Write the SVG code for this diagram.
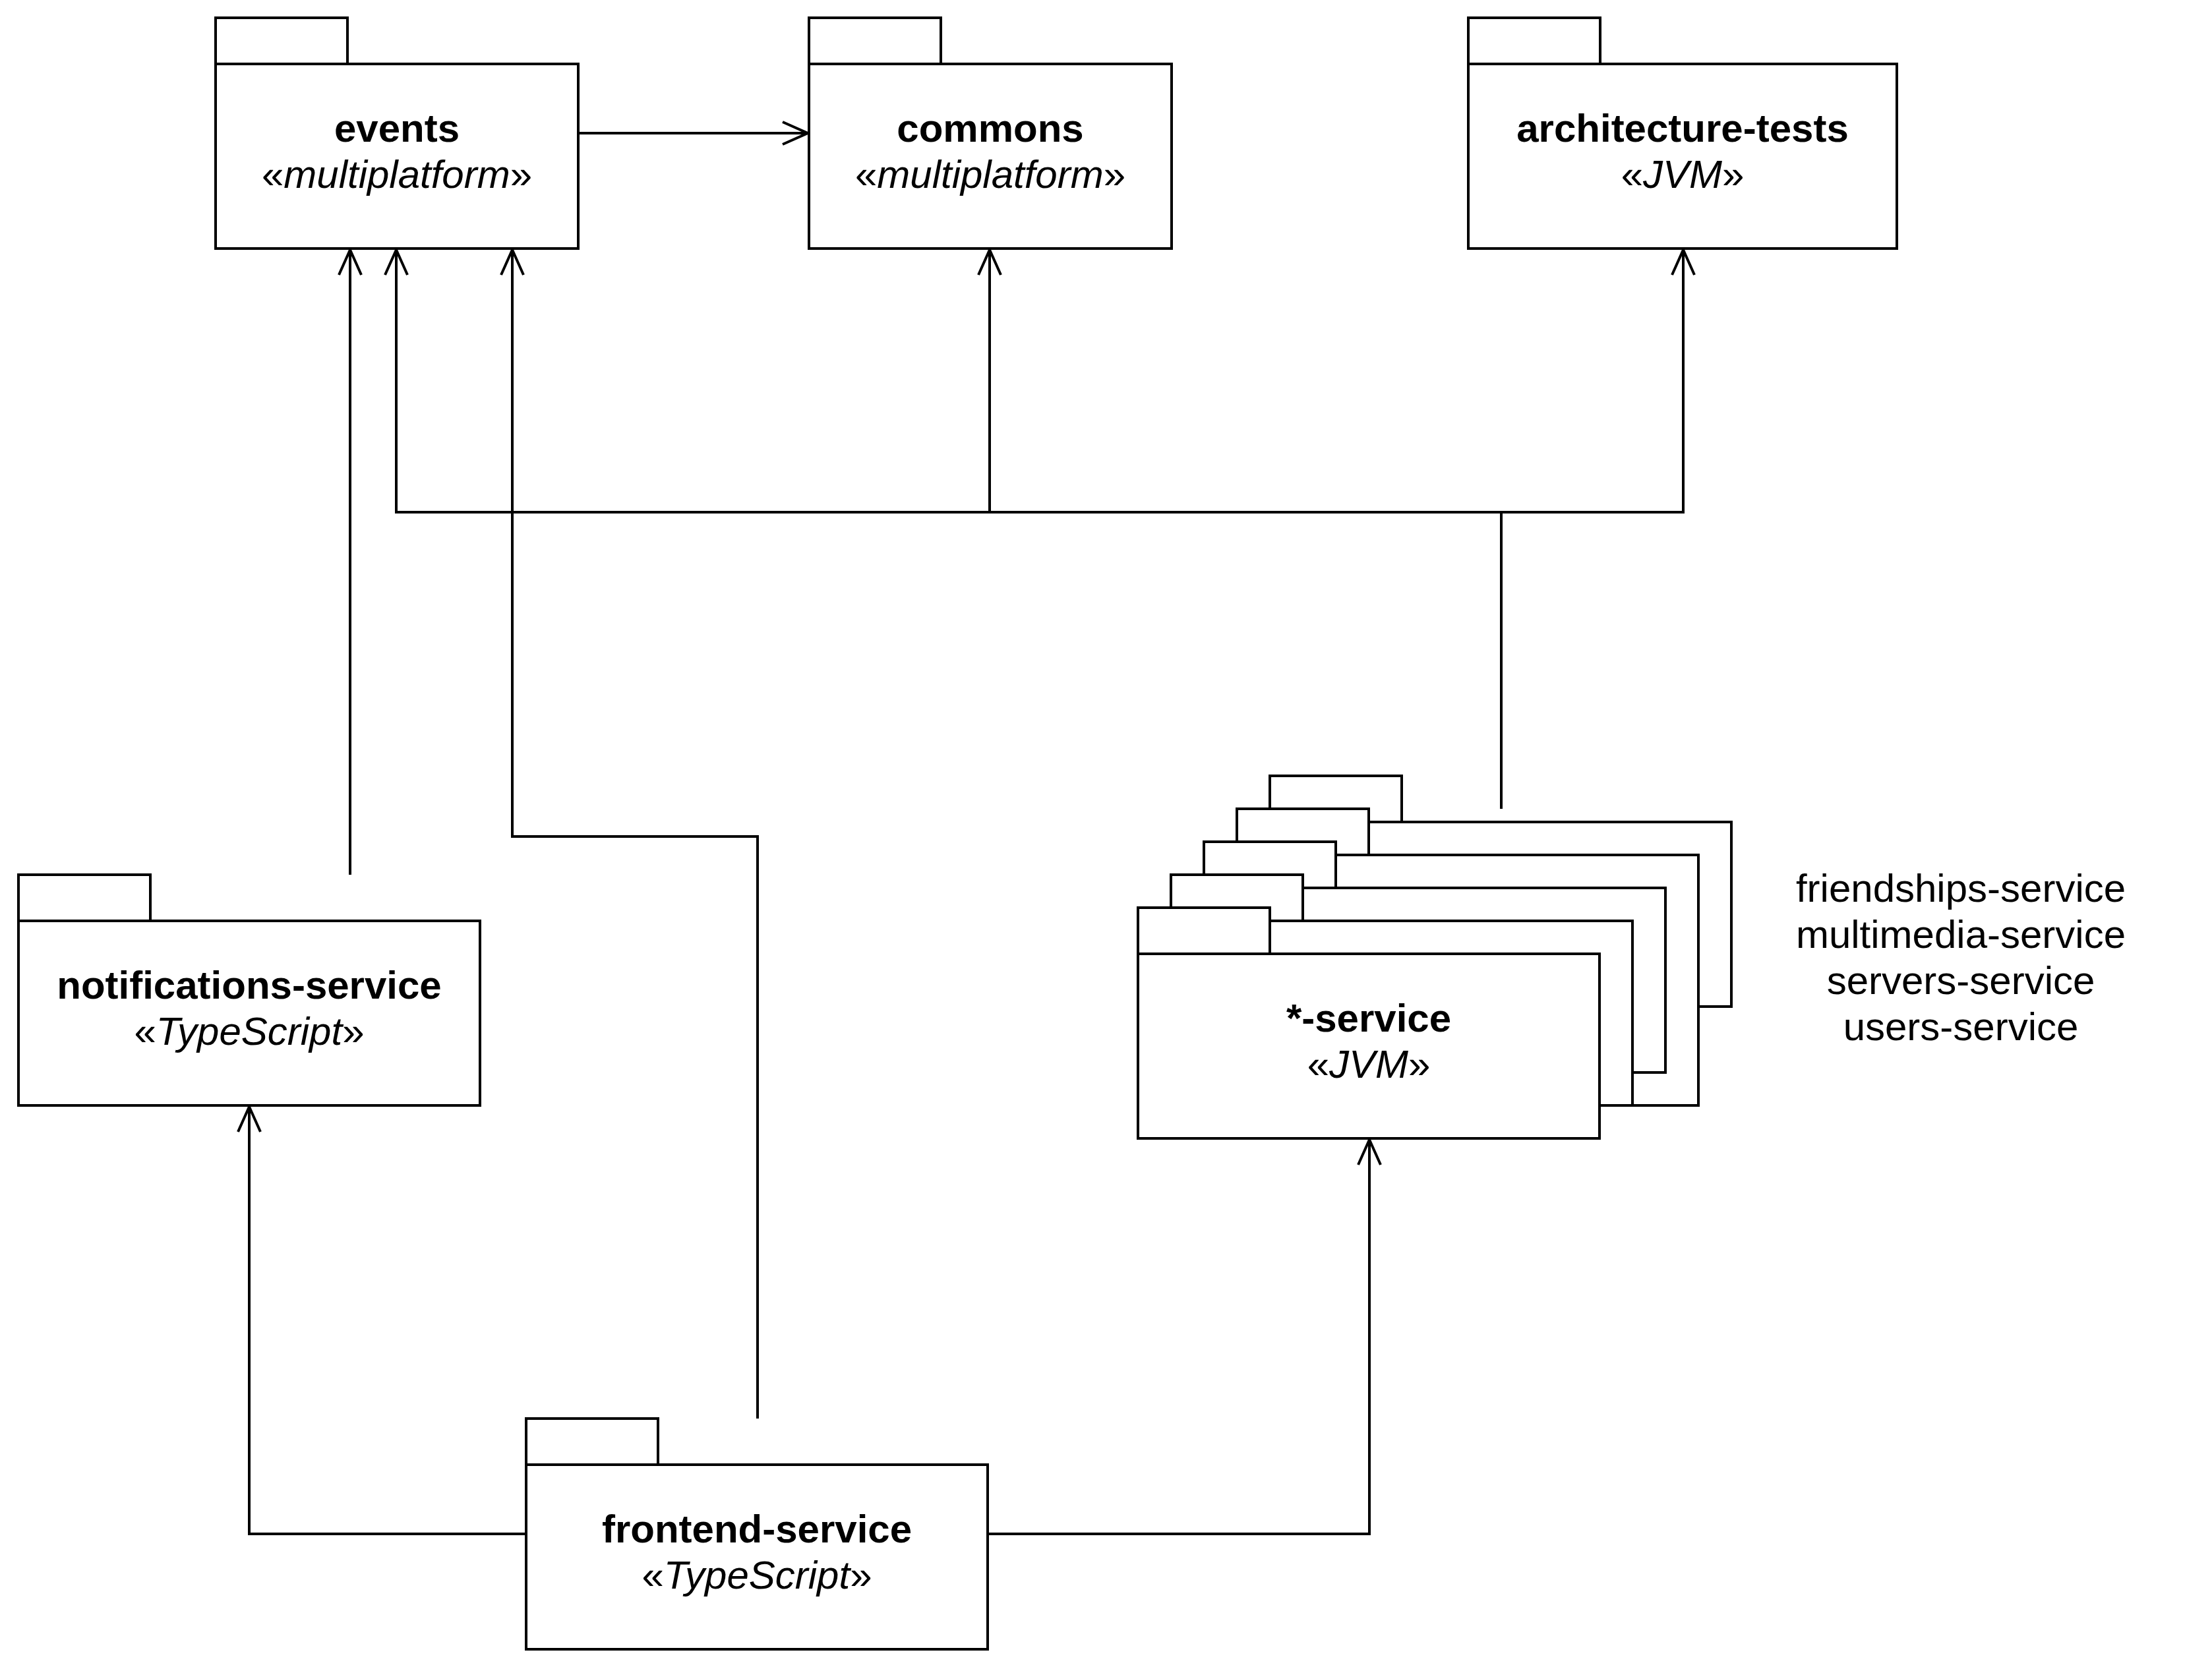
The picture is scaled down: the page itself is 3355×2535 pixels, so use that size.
<svg xmlns="http://www.w3.org/2000/svg" width="3355" height="2535" viewBox="0 0 3355 2535">
<style>
  .pk { fill: #ffffff; stroke: #000000; stroke-width: 4; }
  .cn { fill: none; stroke: #000000; stroke-width: 4; }
  .name { font-family: "Liberation Sans", Arial, Helvetica, sans-serif; font-size: 60px; font-weight: bold; text-anchor: middle; fill: #000; }
  .st { font-family: "Liberation Sans", Arial, Helvetica, sans-serif; font-size: 60px; text-anchor: middle; fill: #000; }
  .it { font-style: italic; }
  .lbl { font-family: "Liberation Sans", Arial, Helvetica, sans-serif; font-size: 60px; text-anchor: middle; fill: #000; }
</style>
<defs>
  <marker id="open" markerUnits="userSpaceOnUse" viewBox="-42 -20 46 40" refX="0" refY="0" markerWidth="46" markerHeight="40" orient="auto">
    <path d="M-38,-17 L0,0 L-38,17" fill="none" stroke="#000" stroke-width="4"/>
  </marker>
</defs>
<rect x="0" y="0" width="3355" height="2535" fill="#ffffff"/>

<g id="connectors">
  <path class="cn" d="M878,202 L1225,202" marker-end="url(#open)"/>
  <path class="cn" d="M531,1327 L531,379" marker-end="url(#open)"/>
  <path class="cn" d="M2277,1227 L2277,777 L601,777 L601,379" marker-end="url(#open)"/>
  <path class="cn" d="M1501,777 L1501,379" marker-end="url(#open)"/>
  <path class="cn" d="M2277,777 L2553,777 L2553,379" marker-end="url(#open)"/>
  <path class="cn" d="M1149,2152 L1149,1269 L777,1269 L777,379" marker-end="url(#open)"/>
  <path class="cn" d="M798,2327 L378,2327 L378,1679" marker-end="url(#open)"/>
  <path class="cn" d="M1498,2327 L2077,2327 L2077,1729" marker-end="url(#open)"/>
</g>

<g id="events">
  <rect class="pk" x="327" y="27" width="200" height="70"/>
  <rect class="pk" x="327" y="97" width="550" height="280"/>
  <text class="name" x="602" y="215">events</text>
  <text class="st" x="602" y="285">«<tspan class="it">multiplatform</tspan>»</text>
</g>

<g id="commons">
  <rect class="pk" x="1227" y="27" width="200" height="70"/>
  <rect class="pk" x="1227" y="97" width="550" height="280"/>
  <text class="name" x="1502" y="215">commons</text>
  <text class="st" x="1502" y="285">«<tspan class="it">multiplatform</tspan>»</text>
</g>

<g id="architecture-tests">
  <rect class="pk" x="2227" y="27" width="200" height="70"/>
  <rect class="pk" x="2227" y="97" width="650" height="280"/>
  <text class="name" x="2552" y="215">architecture-tests</text>
  <text class="st" x="2552" y="285">«<tspan class="it">JVM</tspan>»</text>
</g>

<g id="notifications-service">
  <rect class="pk" x="28" y="1327" width="200" height="70"/>
  <rect class="pk" x="28" y="1397" width="700" height="280"/>
  <text class="name" x="378" y="1515">notifications-service</text>
  <text class="st" x="378" y="1585">«<tspan class="it">TypeScript</tspan>»</text>
</g>

<g id="service">
  <rect class="pk" x="1926" y="1177" width="200" height="70"/>
  <rect class="pk" x="1926" y="1247" width="700" height="280"/>
  <rect class="pk" x="1876" y="1227" width="200" height="70"/>
  <rect class="pk" x="1876" y="1297" width="700" height="380"/>
  <rect class="pk" x="1826" y="1277" width="200" height="70"/>
  <rect class="pk" x="1826" y="1347" width="700" height="280"/>
  <rect class="pk" x="1776" y="1327" width="200" height="70"/>
  <rect class="pk" x="1776" y="1397" width="700" height="280"/>
  <rect class="pk" x="1726" y="1377" width="200" height="70"/>
  <rect class="pk" x="1726" y="1447" width="700" height="280"/>
  <text class="name" x="2076" y="1565">*-service</text>
  <text class="st" x="2076" y="1635">«<tspan class="it">JVM</tspan>»</text>
</g>

<g id="service-list">
  <text class="lbl" x="2974" y="1368">friendships-service</text>
  <text class="lbl" x="2974" y="1438">multimedia-service</text>
  <text class="lbl" x="2974" y="1508">servers-service</text>
  <text class="lbl" x="2974" y="1578">users-service</text>
</g>

<g id="frontend-service">
  <rect class="pk" x="798" y="2152" width="200" height="70"/>
  <rect class="pk" x="798" y="2222" width="700" height="280"/>
  <text class="name" x="1148" y="2340">frontend-service</text>
  <text class="st" x="1148" y="2410">«<tspan class="it">TypeScript</tspan>»</text>
</g>
</svg>
